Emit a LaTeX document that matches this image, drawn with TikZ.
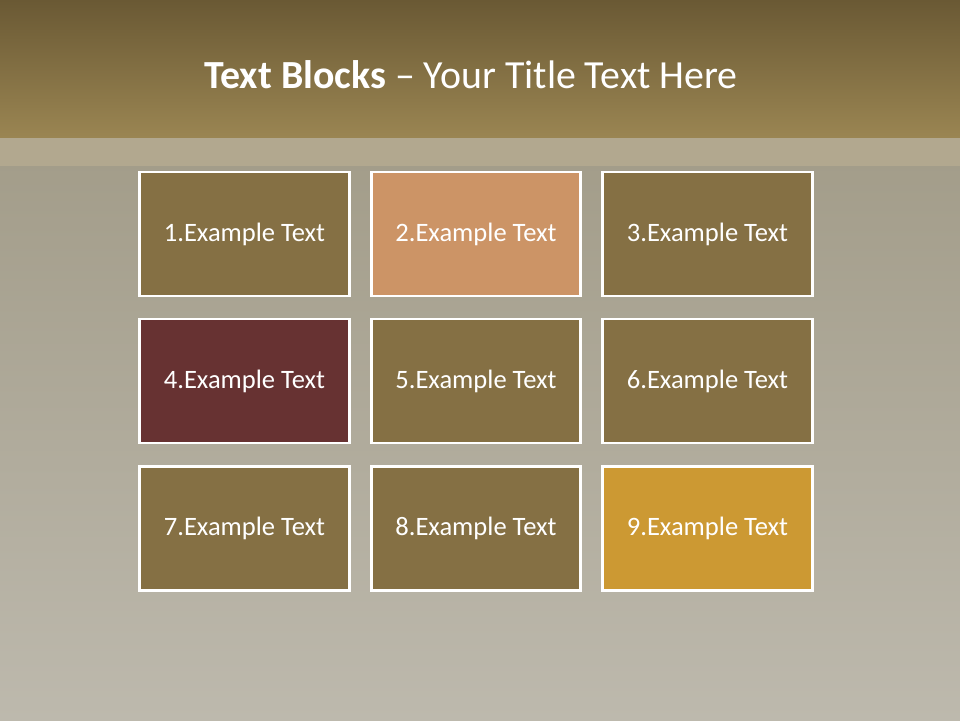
\documentclass[tikz,border=0pt]{standalone}
\usepackage{fontspec}
\setmainfont{Carlito}

\definecolor{barTop}{HTML}{6A5934}
\definecolor{barBot}{HTML}{9A8552}
\definecolor{bandTone}{HTML}{B2A88F}
\definecolor{skinTop}{HTML}{A39D8A}
\definecolor{skinBot}{HTML}{BDB9AD}
\definecolor{olive}{HTML}{857044}
\definecolor{peach}{HTML}{CC9466}
\definecolor{wine}{HTML}{673232}
\definecolor{gold}{HTML}{CC9933}

\begin{document}
\begin{tikzpicture}[
  x=0.026458cm, y=-0.026458cm,
  block/.style={draw=white,line width=2.2pt,minimum width=5.55cm,
    minimum height=3.28cm,text=white,font=\fontsize{20}{24}\selectfont},
  heading/.style={text=white,font=\fontsize{30}{36}\selectfont}
]

% ------------------------------------------------------------------
% Backdrop
% ------------------------------------------------------------------
\useasboundingbox (0,0) rectangle (960,720);
\shade[top color=skinTop,bottom color=skinBot] (0,160) rectangle (960,720);
\fill[bandTone] (0,137) rectangle (960,166);
\shade[top color=barTop,bottom color=barBot] (0,0) rectangle (960,137);

\node[heading] (title) at (471,75)
  {\textbf{Text Blocks} -- Your Title Text Here};

% ------------------------------------------------------------------
% Grid of blocks
% ------------------------------------------------------------------
\foreach \n/\cx/\cy/\col in {
    1/244.5/234/olive, 2/476/234/peach,   3/707.5/234/olive,
    4/244.5/381/wine,  5/476/381/olive,   6/707.5/381/olive,
    7/244.5/528.5/olive, 8/476/528.5/olive, 9/707.5/528.5/gold}
  \node[block,fill=\col] (b\n) at (\cx,\cy) {\n.Example Text};

\end{tikzpicture}
\end{document}
